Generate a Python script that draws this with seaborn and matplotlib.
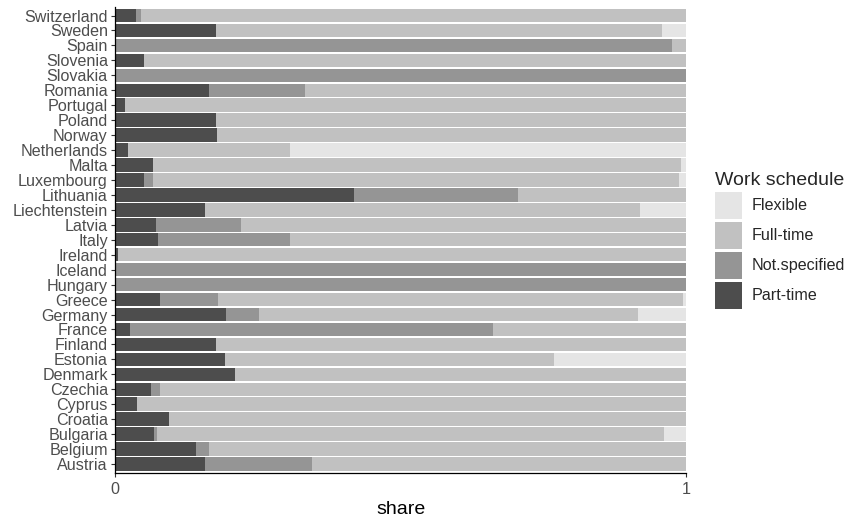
import numpy as np
import pandas as pd
import seaborn as sns
from matplotlib import pyplot as plt
from matplotlib.patches import Patch

countries = [
    "Switzerland", "Sweden", "Spain", "Slovenia", "Slovakia", "Romania",
    "Portugal", "Poland", "Norway", "Netherlands", "Malta", "Luxembourg",
    "Lithuania", "Liechtenstein", "Latvia", "Italy", "Ireland", "Iceland",
    "Hungary", "Greece", "Germany", "France", "Finland", "Estonia",
    "Denmark", "Czechia", "Cyprus", "Croatia", "Bulgaria", "Belgium",
    "Austria",
]
part_time = [
    0.037, 0.176, 0.000, 0.051, 0.000, 0.165, 0.017, 0.176, 0.179, 0.022,
    0.067, 0.051, 0.418, 0.158, 0.071, 0.076, 0.005, 0.000, 0.000, 0.078,
    0.195, 0.026, 0.176, 0.192, 0.210, 0.063, 0.038, 0.094, 0.069, 0.142,
    0.158,
]
not_specified = [
    0.009, 0.000, 0.976, 0.000, 1.000, 0.168, 0.000, 0.000, 0.000, 0.000,
    0.000, 0.016, 0.287, 0.000, 0.149, 0.231, 0.000, 1.000, 0.999, 0.102,
    0.057, 0.636, 0.000, 0.000, 0.000, 0.015, 0.000, 0.000, 0.005, 0.023,
    0.187,
]
flexible = [
    0.000, 0.042, 0.000, 0.000, 0.000, 0.000, 0.000, 0.000, 0.000, 0.693,
    0.009, 0.013, 0.000, 0.081, 0.000, 0.000, 0.000, 0.000, 0.000, 0.006,
    0.085, 0.000, 0.000, 0.231, 0.000, 0.000, 0.000, 0.000, 0.039, 0.000,
    0.000,
]
# full-time is whatever is left of the share
full_time = [1 - p - n - f for p, n, f in zip(part_time, not_specified, flexible)]

schedules = ["Part-time", "Not.specified", "Full-time", "Flexible"]
colors = {"Part-time": "#4D4D4D", "Not.specified": "#959595",
          "Full-time": "#C1C1C1", "Flexible": "#E5E5E5"}

df = pd.DataFrame({"country": countries, "Part-time": part_time,
                   "Not.specified": not_specified, "Full-time": full_time,
                   "Flexible": flexible})
cum = df[schedules].cumsum(axis=1)
cum["country"] = df["country"]

sns.set_theme(style="white")
plt.rcParams["font.family"] = ["Liberation Sans", "DejaVu Sans"]

fig = plt.figure(figsize=(8.46, 5.2), dpi=100)
ax = fig.add_axes([0.136, 0.0904, 0.675, 0.897])

# draw stacked bars from the right end backwards
for s in reversed(schedules):
    sns.barplot(data=cum, x=s, y="country", order=countries, orient="h",
                color=colors[s], width=0.9, saturation=1, ax=ax,
                linewidth=0)

ax.set_xlim(0, 1)
ax.set_ylim(len(countries) - 1 + 0.6, -0.6)
ax.set_xticks([0, 1])
ax.set_xticklabels(["0", "1"])
ax.set_xlabel("share", fontsize=14, color="black", labelpad=3)
ax.set_ylabel("")
for side in ["top", "right"]:
    ax.spines[side].set_visible(False)
for side in ["left", "bottom"]:
    ax.spines[side].set_color("black")
    ax.spines[side].set_linewidth(0.9)
ax.tick_params(axis="both", which="both", length=3.2, width=0.8,
               color="#333333", labelsize=11.6, labelcolor="#4D4D4D", pad=2,
               left=True, bottom=True)
ax.tick_params(axis="x", pad=3.5)

handles = [Patch(facecolor=colors[s], edgecolor="none", label=s)
           for s in reversed(schedules)]
leg = fig.legend(handles=handles, title="Work schedule", loc="upper left",
                 bbox_to_anchor=(0.845, 0.67), frameon=False, fontsize=11.6,
                 title_fontsize=14, handlelength=1.68, handleheight=2.2,
                 labelspacing=0.19, handletextpad=0.62, borderaxespad=0,
                 borderpad=0)
leg._legend_box.align = "left"

fig.savefig("out.png", dpi=100)
